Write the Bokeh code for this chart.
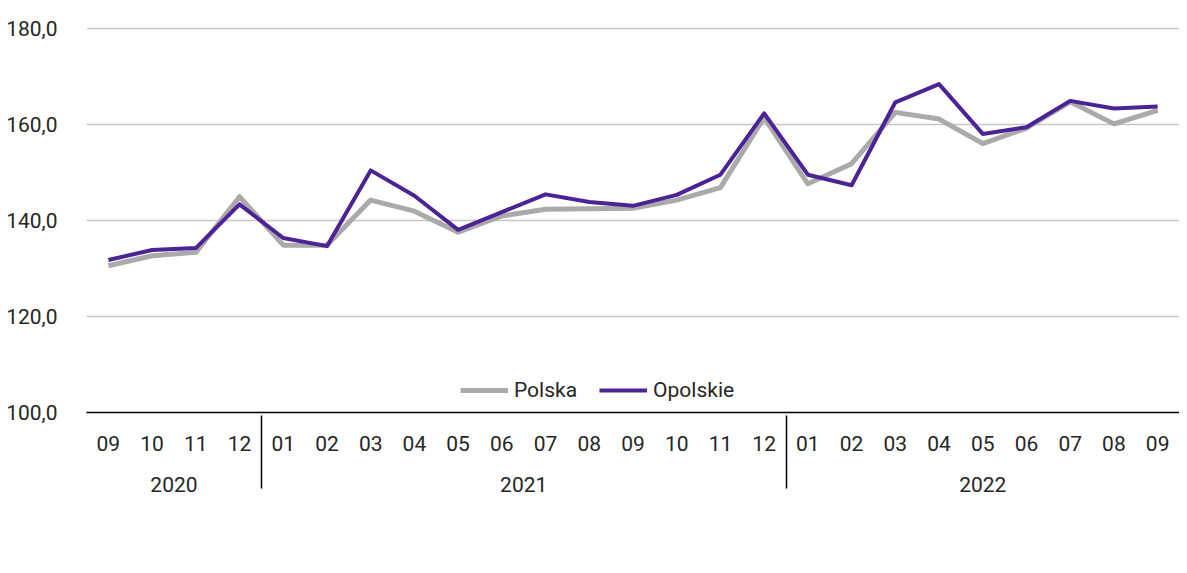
from bokeh.plotting import figure
from bokeh.models import (FactorRange, Legend, LegendItem, Range1d, FixedTicker,
                          ColumnDataSource)
from bokeh.embed import file_html
from bokeh.resources import INLINE

years = ["2020"] * 4 + ["2021"] * 12 + ["2022"] * 9
months = ["09", "10", "11", "12",
          "01", "02", "03", "04", "05", "06", "07", "08", "09", "10", "11", "12",
          "01", "02", "03", "04", "05", "06", "07", "08", "09"]
polska = [130.6, 132.7, 133.4, 145.0, 134.9, 134.9, 144.3, 142.0, 137.6, 141.0,
          142.4, 142.5, 142.6, 144.3, 146.9, 161.5, 147.7, 151.9, 162.6, 161.2,
          156.1, 159.3, 164.8, 160.2, 163.0]
opolskie = [131.8, 133.9, 134.3, 143.4, 136.4, 134.7, 150.5, 145.2, 138.1, 141.8,
            145.5, 143.9, 143.1, 145.4, 149.6, 162.4, 149.6, 147.4, 164.7, 168.5,
            158.1, 159.5, 165.0, 163.4, 163.8]
y_ticks = [100, 120, 140, 160, 180]
y_tick_labels = ["100,0", "120,0", "140,0", "160,0", "180,0"]

FONT = "Roboto"
TXT = "#262626"

factors = list(zip(years, months))
src = ColumnDataSource(dict(x=factors, polska=polska, opolskie=opolskie))

p = figure(x_range=FactorRange(*factors, range_padding=0, factor_padding=0, group_padding=0),
           y_range=Range1d(100, 180.3),
           frame_width=1093, frame_height=385, output_backend="svg", toolbar_location=None,
           min_border_left=86, min_border_top=27, min_border_right=0, min_border_bottom=0)

r1 = p.line("x", "polska", source=src, line_color="#AAAAAA", line_width=5, line_join="round")
r2 = p.line("x", "opolskie", source=src, line_color="#4C2297", line_width=4, line_join="round")

p.outline_line_color = None
p.xgrid.grid_line_color = None
p.ygrid.ticker = FixedTicker(ticks=y_ticks)
p.ygrid.grid_line_color = "#C8C8C8"
p.ygrid.grid_line_width = 1.3

ya = p.yaxis[0]
ya.ticker = FixedTicker(ticks=y_ticks)
ya.major_label_overrides = {float(t): l for t, l in zip(y_ticks, y_tick_labels)}
ya.axis_line_color = None
ya.major_tick_line_color = None
ya.minor_tick_line_color = None
ya.major_label_standoff = 23
ya.major_label_text_font = FONT
ya.major_label_text_font_size = "21px"
ya.major_label_text_color = TXT

xa = p.xaxis[0]
xa.axis_line_color = "black"
xa.axis_line_width = 1.5
xa.major_tick_line_color = None
xa.minor_tick_line_color = None
xa.major_tick_out = 0
xa.major_tick_in = 0
xa.major_label_standoff = 23
xa.major_label_text_font = FONT
xa.major_label_text_font_size = "21px"
xa.major_label_text_color = TXT
xa.major_label_orientation = "horizontal"
xa.group_text_font = FONT
xa.group_text_font_size = "21px"
xa.group_text_font_style = "normal"
xa.group_text_color = TXT
xa.separator_line_color = "black"
xa.separator_line_width = 1.5

legend = Legend(items=[LegendItem(label="Polska", renderers=[r1]),
                       LegendItem(label="Opolskie", renderers=[r2])],
                orientation="horizontal", location=(374, 10),
                label_text_font=FONT, label_text_font_size="21px", label_text_color=TXT,
                glyph_width=48, label_standoff=6, spacing=22,
                border_line_color=None, background_fill_alpha=0,
                padding=0, margin=0)
p.add_layout(legend, "center")

open("out.html", "w").write(file_html(p, INLINE))
